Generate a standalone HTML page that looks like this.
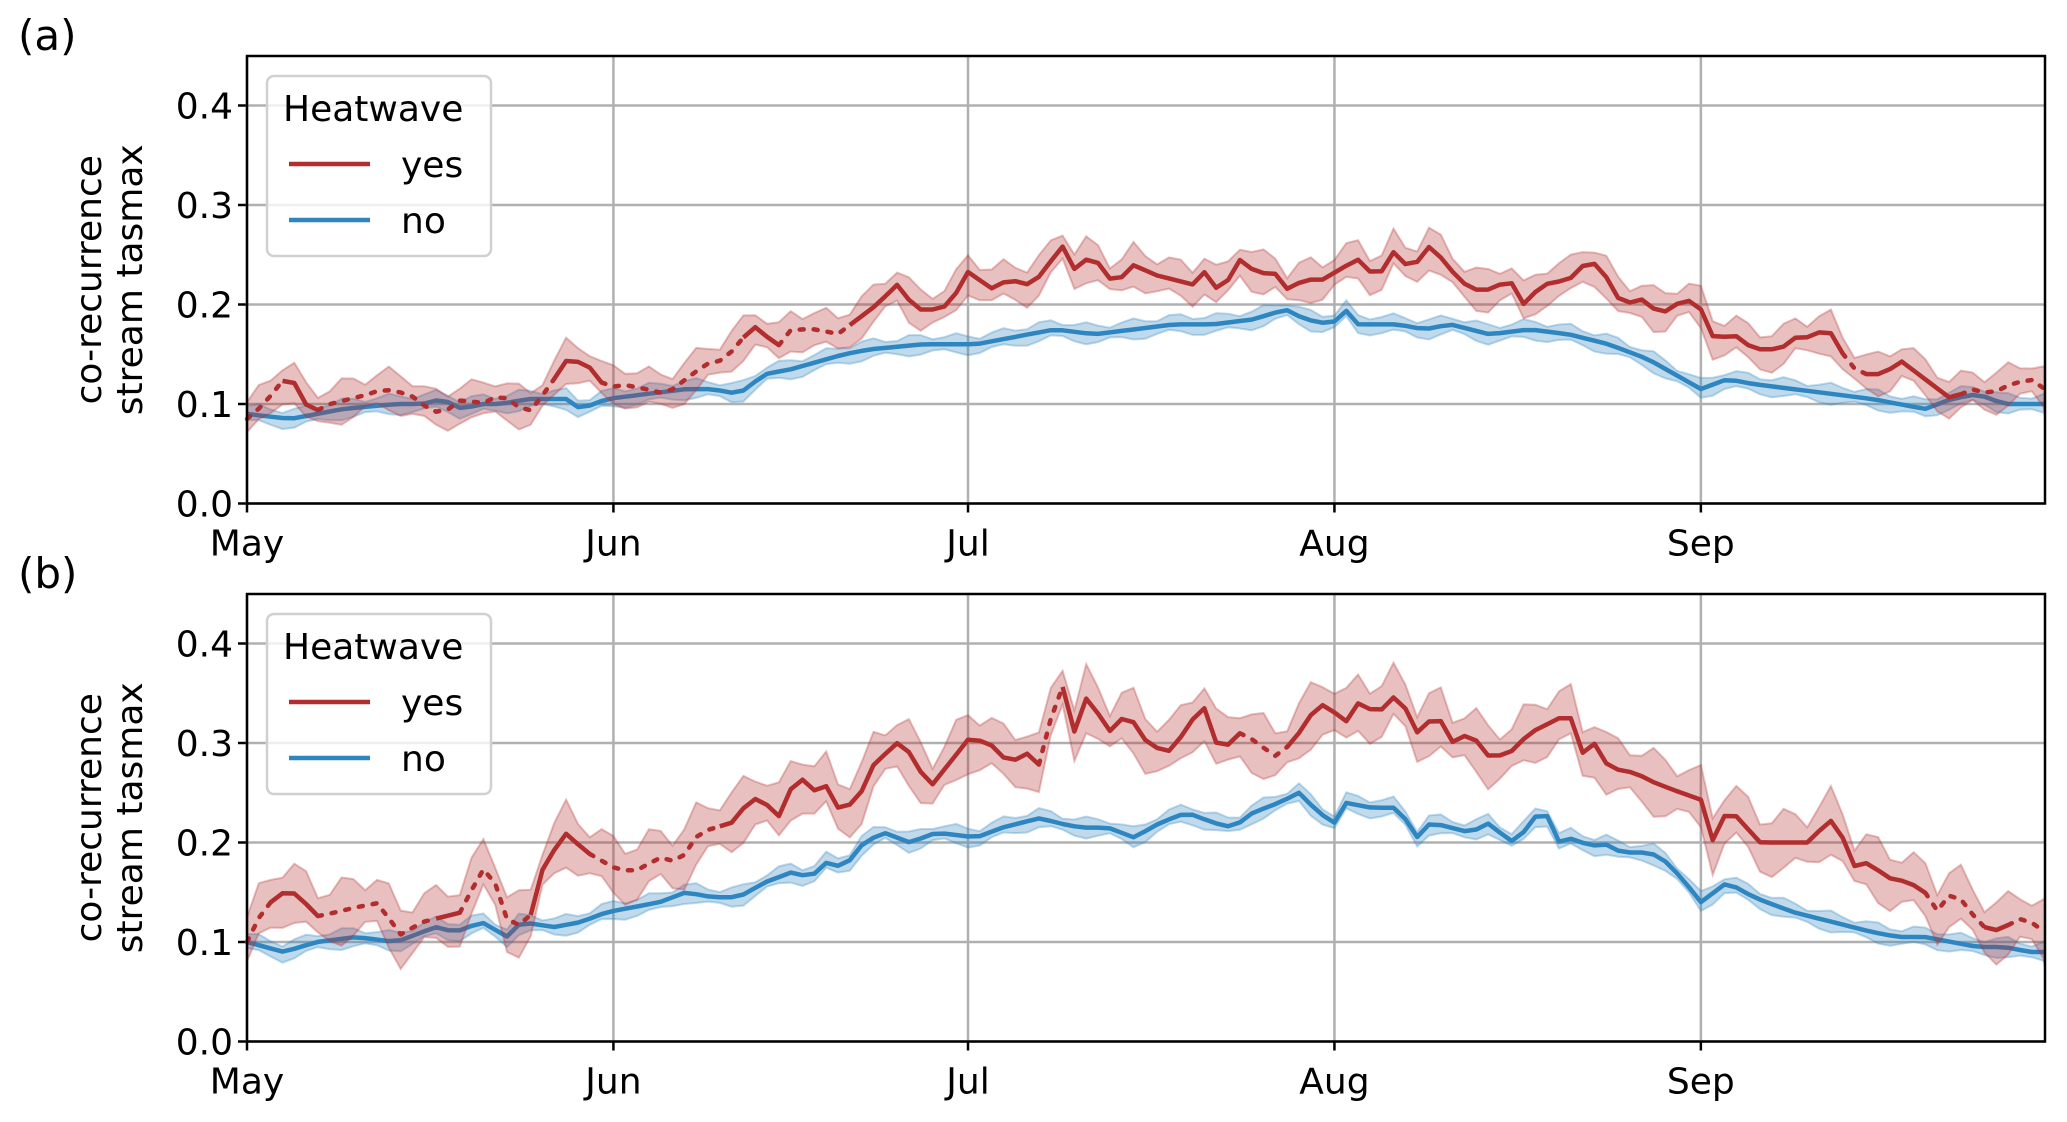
<!DOCTYPE html>
<html><head><meta charset="utf-8">
<style>
html,body{margin:0;padding:0;background:#fff;}
svg{display:block;}
text{font-family:"DejaVu Sans","Liberation Sans",sans-serif;fill:#000;}
</style></head>
<body>
<svg id="s" width="2067" height="1122" viewBox="0 0 2067 1122" xmlns="http://www.w3.org/2000/svg"></svg>
<script>
const L=247,R=2045,DAY=11.82,END=152.1;
const dx=x=>(x-187)/8.967;
const cv=a=>a.map(q=>[dx(q[0]),q[1]]);
const panels=[
 {top:56,bot:503.5,label:"(a)",
  blue:cv([[187,.09],[220,.085],[240,.09],[260,.095],[300,.1],[320,.1],[335,.105],[350,.095],[365,.1],[380,.1],[400,.105],[430,.105],[440,.095],[460,.105],[490,.11],[520,.115],[540,.115],[560,.11],[580,.13],[600,.135],[640,.15],[660,.155],[700,.16],[740,.16],[780,.17],[800,.175],[830,.17],[860,.175],[890,.18],[920,.18],[950,.185],[975,.195],[990,.185],[1010,.18],[1020,.195],[1030,.18],[1060,.18],[1080,.175],[1100,.18],[1130,.17],[1160,.175],[1190,.17],[1220,.16],[1250,.145],[1270,.13],[1290,.115],[1310,.125],[1330,.12],[1360,.115],[1390,.11],[1420,.105],[1440,.1],[1460,.095],[1480,.105],[1500,.11],[1520,.1],[1540,.1],[1551,.1]]),
  red:cv([[187,.085],[200,.1],[215,.125],[225,.12],[235,.09],[250,.1],[265,.105],[280,.11],[290,.115],[310,.11],[325,.095],[335,.09],[350,.105],[365,.1],[380,.11],[400,.09],[415,.115],[430,.145],[445,.14],[460,.115],[470,.12],[490,.115],[505,.11],[520,.125],[535,.14],[550,.145],[562,.165],[575,.18],[588,.155],[600,.175],[620,.175],[635,.17],[645,.18],[665,.2],[680,.22],[695,.195],[710,.195],[720,.2],[735,.235],[750,.215],[765,.225],[780,.22],[790,.23],[805,.26],[815,.235],[828,.25],[845,.22],[860,.24],[875,.23],[890,.225],[905,.22],[915,.235],[925,.21],[940,.245],[955,.23],[965,.235],[975,.215],[990,.225],[1005,.225],[1015,.235],[1030,.245],[1045,.225],[1055,.255],[1070,.235],[1085,.26],[1100,.235],[1115,.215],[1130,.215],[1145,.225],[1155,.2],[1170,.22],[1190,.225],[1205,.245],[1215,.235],[1230,.2],[1245,.205],[1260,.19],[1270,.2],[1285,.205],[1290,.195],[1300,.165],[1315,.17],[1330,.155],[1350,.155],[1365,.17],[1375,.165],[1385,.18],[1395,.155],[1410,.13],[1430,.13],[1440,.145],[1450,.135],[1465,.12],[1480,.105],[1495,.115],[1510,.11],[1525,.12],[1540,.125],[1551,.115]]),
  dots:[[187,205],[235,420],[455,560],[590,640],[1395,1415],[1480,1551]].map(r=>[dx(r[0]),dx(r[1])]),rw:.017},
 {top:594,bot:1041.5,label:"(b)",
  blue:cv([[187,.1],[215,.09],[240,.1],[270,.105],[300,.1],[330,.115],[345,.11],[365,.12],[385,.105],[395,.12],[420,.115],[440,.12],[460,.13],[480,.135],[500,.14],[520,.15],[540,.145],[560,.145],[580,.16],[600,.17],[615,.165],[625,.18],[640,.175],[655,.2],[670,.21],[690,.2],[710,.21],[740,.205],[760,.215],[790,.225],[800,.22],[820,.215],[840,.215],[860,.205],[880,.22],[900,.23],[920,.22],[935,.215],[950,.23],[970,.24],[985,.25],[1000,.23],[1012,.22],[1020,.24],[1040,.235],[1060,.235],[1075,.205],[1085,.22],[1100,.215],[1115,.21],[1130,.22],[1145,.2],[1160,.215],[1170,.24],[1180,.2],[1195,.205],[1205,.195],[1215,.2],[1230,.19],[1250,.19],[1260,.185],[1275,.165],[1290,.14],[1310,.16],[1330,.145],[1360,.13],[1390,.12],[1420,.11],[1440,.105],[1460,.105],[1480,.1],[1500,.095],[1520,.095],[1540,.09],[1551,.09]]),
  red:cv([[187,.1],[200,.135],[215,.15],[228,.148],[237,.125],[255,.13],[270,.135],[290,.14],[300,.105],[320,.12],[350,.13],[365,.175],[375,.16],[385,.12],[400,.115],[410,.17],[428,.21],[445,.19],[465,.175],[480,.17],[500,.185],[515,.18],[530,.21],[555,.22],[570,.245],[580,.24],[590,.225],[605,.27],[615,.25],[625,.26],[635,.235],[650,.24],[660,.275],[680,.3],[690,.29],[705,.255],[720,.28],[735,.305],[750,.3],[765,.28],[780,.29],[790,.275],[803,.37],[815,.31],[825,.35],[840,.31],[855,.33],[870,.3],[885,.29],[898,.31],[912,.34],[925,.29],[940,.31],[955,.3],[965,.285],[980,.3],[995,.33],[1005,.34],[1020,.32],[1030,.34],[1045,.33],[1060,.35],[1075,.31],[1090,.33],[1100,.3],[1115,.31],[1130,.285],[1145,.29],[1160,.31],[1175,.32],[1190,.33],[1200,.29],[1210,.3],[1220,.275],[1240,.27],[1255,.26],[1275,.25],[1290,.243],[1298,.2],[1311,.235],[1335,.2],[1355,.2],[1375,.2],[1385,.225],[1396,.215],[1402,.175],[1418,.18],[1430,.165],[1448,.16],[1460,.15],[1470,.13],[1480,.15],[1490,.14],[1500,.12],[1510,.11],[1520,.115],[1535,.125],[1551,.11]]),
  dots:[[187,200],[240,330],[345,400],[440,540],[780,800],[935,975],[1460,1500],[1520,1551]].map(r=>[dx(r[0]),dx(r[1])]),rw:.025}
];
const s=document.getElementById('s');let h='';
function X(d){return L+d*DAY;}
function interp(k,d){for(let i=0;i<k.length-1;i++){if(d>=k[i][0]&&d<=k[i+1][0]){const t=(d-k[i][0])/(k[i+1][0]-k[i][0]);return k[i][1]+t*(k[i+1][1]-k[i][1]);}}return k[k.length-1][1];}
function pts(k){const a=[];for(let d=0;d<END;d+=1)a.push([d,interp(k,d)]);a.push([END,interp(k,END)]);return a;}
const months=[["May",0],["Jun",31],["Jul",61],["Aug",92],["Sep",123]];
panels.forEach(p=>{
 const Y=v=>p.bot-v*995;
 h+=`<text x="18" y="${p.top-6}" font-size="42">${p.label}</text>`;
 for(let v=0;v<=4;v++){const y=Y(v/10);h+=`<line x1="${L}" x2="${R}" y1="${y}" y2="${y}" stroke="#b0b0b0" stroke-width="2.5"/>`;
  h+=`<line x1="${L-9}" x2="${L}" y1="${y}" y2="${y}" stroke="#000" stroke-width="2.5"/>`;
  h+=`<text x="${L-14}" y="${y+13}" font-size="36" text-anchor="end">${(v/10).toFixed(1)}</text>`;}
 months.forEach(m=>{const x=X(m[1]);h+=`<line x1="${x}" x2="${x}" y1="${p.top}" y2="${p.bot}" stroke="#b0b0b0" stroke-width="2.5"/>`;
  h+=`<line x1="${x}" x2="${x}" y1="${p.bot}" y2="${p.bot+9}" stroke="#000" stroke-width="2.5"/>`;
  h+=`<text x="${x}" y="${p.bot+52}" font-size="36" text-anchor="middle">${m[0]}</text>`;});
 const cy=(p.top+p.bot)/2;
 h+=`<text transform="translate(101,${cy}) rotate(-90)" font-size="36" text-anchor="middle">co-recurrence</text>`;
 h+=`<text transform="translate(142,${cy}) rotate(-90)" font-size="36" text-anchor="middle">stream tasmax</text>`;
 [["blue","#2e86c1",.008],["red","#b22d2d",p.rw]].forEach(([k,c,w])=>{
  const a=pts(p[k]);
  let up=a.map((q,i)=>`${X(q[0]).toFixed(1)},${Y(q[1]+w*(1+0.4*Math.sin(i*1.7))).toFixed(1)}`);
  let dn=a.slice().reverse().map((q,i)=>`${X(q[0]).toFixed(1)},${Y(q[1]-w*(1+0.4*Math.cos(i*1.3))).toFixed(1)}`);
  h+=`<polygon points="${up.join(' ')} ${dn.join(' ')}" fill="${c}" fill-opacity="0.3" stroke="${c}" stroke-opacity="0.3" stroke-width="2"/>`;
  if(k==="blue"){h+=`<polyline points="${a.map(q=>X(q[0]).toFixed(1)+','+Y(q[1]).toFixed(1)).join(' ')}" fill="none" stroke="${c}" stroke-width="4.5" stroke-linejoin="round"/>`;}
  else{
   const isDot=d=>p.dots.some(r=>d>=r[0]&&d<r[1]);
   let seg=[],sd=null;
   const flush=()=>{if(seg.length>1)h+=`<polyline points="${seg.join(' ')}" fill="none" stroke="${c}" stroke-width="4.5" stroke-linejoin="round" ${sd?'stroke-dasharray="4,10" stroke-linecap="round"':''}/>`;};
   for(let i=0;i<a.length-1;i++){const dd=isDot(a[i][0]);
    if(dd!==sd){flush();seg=[X(a[i][0]).toFixed(1)+','+Y(a[i][1]).toFixed(1)];sd=dd;}
    seg.push(X(a[i+1][0]).toFixed(1)+','+Y(a[i+1][1]).toFixed(1));}
   flush();
  }
 });
 h+=`<rect x="${L}" y="${p.top}" width="${R-L}" height="${p.bot-p.top}" fill="none" stroke="#000" stroke-width="2.5"/>`;
 const o=p.top-56;
 h+=`<rect x="267" y="${76+o}" width="224" height="180" rx="7" fill="#fff" fill-opacity="0.8" stroke="#d0d0d0" stroke-width="2.5"/>`;
 h+=`<text x="283" y="${121+o}" font-size="36">Heatwave</text>`;
 h+=`<line x1="289" x2="370" y1="${164+o}" y2="${164+o}" stroke="#b22d2d" stroke-width="4.5"/>`;
 h+=`<text x="401" y="${177+o}" font-size="36">yes</text>`;
 h+=`<line x1="289" x2="370" y1="${220+o}" y2="${220+o}" stroke="#2e86c1" stroke-width="4.5"/>`;
 h+=`<text x="401" y="${233+o}" font-size="36">no</text>`;
});
s.innerHTML=h;
</script>
</body></html>
